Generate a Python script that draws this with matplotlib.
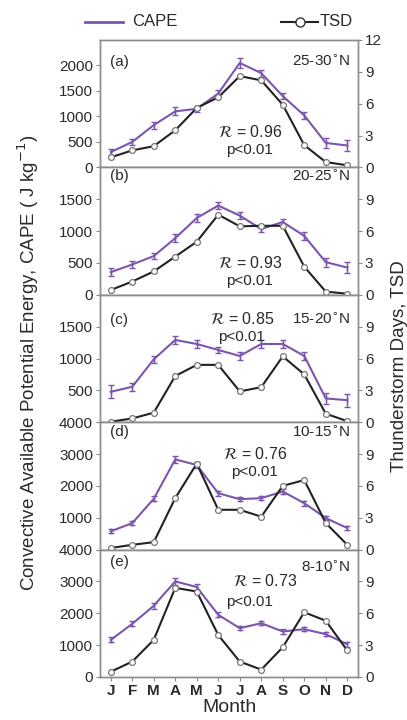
import matplotlib
matplotlib.use("Agg")
import matplotlib.pyplot as plt
from matplotlib.lines import Line2D

plt.rcParams['font.family'] = ['Liberation Sans', 'DejaVu Sans']
plt.rcParams['mathtext.fontset'] = 'dejavusans'

months = ["J", "F", "M", "A", "M", "J", "J", "A", "S", "O", "N", "D"]

panel_tags = ["(a)", "(b)", "(c)", "(d)", "(e)"]
regions = ["25-30$^{\\circ}$N", "20-25$^{\\circ}$N", "15-20$^{\\circ}$N",
           "10-15$^{\\circ}$N", "8-10$^{\\circ}$N"]
r_values = ["0.96", "0.93", "0.85", "0.76", "0.73"]

# monthly mean CAPE (J kg-1) per latitude band
cape_a = [300, 500, 830, 1100, 1150, 1450, 2050, 1850, 1400, 1020, 480, 430]
cape_b = [355, 476, 608, 889, 1206, 1401, 1243, 1032, 1143, 925, 513, 428]
cape_c = [477, 556, 987, 1291, 1228, 1134, 1040, 1228, 1228, 1040, 373, 346]
cape_d = [573, 833, 1594, 2833, 2656, 1771, 1583, 1615, 1823, 1458, 990, 677]
cape_e = [1165, 1670, 2237, 3003, 2825, 1953, 1533, 1690, 1428, 1501, 1344, 1029]

# error bars on CAPE
err_a = [60, 60, 70, 80, 60, 60, 100, 70, 60, 70, 90, 110]
err_b = [60, 50, 50, 60, 60, 60, 60, 50, 50, 60, 70, 80]
err_c = [100, 60, 60, 70, 60, 50, 60, 60, 60, 60, 90, 100]
err_d = [60, 60, 80, 100, 80, 80, 60, 60, 80, 80, 60, 70]
err_e = [80, 80, 90, 120, 100, 80, 60, 70, 80, 70, 70, 80]

# monthly thunderstorm days per latitude band
tsd_a = [0.95, 1.6, 2.0, 3.5, 5.6, 6.6, 8.6, 8.2, 5.9, 2.1, 0.5, 0.2]
tsd_b = [0.45, 1.25, 2.2, 3.6, 5.0, 7.55, 6.45, 6.5, 6.5, 2.65, 0.3, 0.1]
tsd_c = [0.05, 0.35, 0.9, 4.35, 5.4, 5.4, 2.9, 3.3, 6.2, 4.5, 0.8, 0.1]
tsd_d = [0.15, 0.45, 0.7, 4.85, 8.1, 3.75, 3.75, 3.1, 6.0, 6.55, 2.5, 0.45]
tsd_e = [0.5, 1.45, 3.5, 8.4, 8.05, 3.95, 1.45, 0.7, 2.8, 6.1, 5.3, 2.5]

cape_sets = [cape_a, cape_b, cape_c, cape_d, cape_e]
err_sets = [err_a, err_b, err_c, err_d, err_e]
tsd_sets = [tsd_a, tsd_b, tsd_c, tsd_d, tsd_e]

cape_lims = [2500, 2000, 2000, 4000, 4000]
cape_ticks = [[0, 500, 1000, 1500, 2000],
              [0, 500, 1000, 1500],
              [0, 500, 1000, 1500],
              [0, 1000, 2000, 3000, 4000],
              [0, 1000, 2000, 3000, 4000]]

purple = "#7B55AE"
spine_c = "#8c8c8c"
text_c = "#2a2a2a"

# annotation positions (axes fraction): R text, p text, region label
r_pos = [(0.58, 0.28), (0.58, 0.25), (0.55, 0.81), (0.60, 0.75), (0.64, 0.75)]
p_pos = [(0.58, 0.14), (0.58, 0.11), (0.55, 0.67), (0.60, 0.61), (0.58, 0.59)]
reg_y = [0.83, 0.93, 0.81, 0.92, 0.86]
tag_y = [0.83, 0.93, 0.80, 0.92, 0.90]

fig = plt.figure(figsize=(4.07, 7.2), dpi=100)
left, width = 100 / 407, 258 / 407
top_px, panel_px = 40, 127.4
x = list(range(12))

for i in range(5):
    bottom = 1 - (top_px + (i + 1) * panel_px) / 720
    ax = fig.add_axes([left, bottom, width, panel_px / 720])
    ax2 = ax.twinx()

    ax.errorbar(x, cape_sets[i], yerr=err_sets[i], color=purple, lw=1.5,
                marker='|', ms=4, capsize=2.2, elinewidth=1.0, zorder=3)
    ax2.plot(x, tsd_sets[i], color="#222222", lw=1.5, marker='o', ms=4.2,
             mfc='white', mec='#777777', mew=0.9, zorder=4)

    ax.set_xlim(-0.5, 11.5)
    ax.set_ylim(0, cape_lims[i])
    ax.set_yticks(cape_ticks[i])
    # the zero of a band is covered by the "4000" of the band below it
    if i in (2, 3):
        ax.set_yticklabels([""] + [str(t) for t in cape_ticks[i][1:]])
    ax2.set_ylim(0, 12)
    ax2.set_yticks([0, 3, 6, 9, 12] if i == 0 else [0, 3, 6, 9])
    ax.set_xticks(x)
    if i == 4:
        ax.set_xticklabels(months, fontsize=12, color=text_c, fontweight='bold')
        ax.set_xlabel("Month", fontsize=14, color=text_c, labelpad=1)
    else:
        ax.set_xticklabels([])

    for a in (ax, ax2):
        for s in a.spines.values():
            s.set_color(spine_c)
            s.set_linewidth(1.0)
        a.tick_params(colors=spine_c, labelcolor=text_c, labelsize=11,
                      length=3, width=0.8, pad=2)
    ax.tick_params(axis='x', direction='out', length=3)

    ax.text(0.04, tag_y[i], panel_tags[i], transform=ax.transAxes,
            fontsize=11, color=text_c, va='center', ha='left')
    ax.text(0.97, reg_y[i], regions[i], transform=ax.transAxes,
            fontsize=11, color=text_c, va='center', ha='right')
    ax.text(r_pos[i][0], r_pos[i][1], r"$\mathcal{R}$ = " + r_values[i],
            transform=ax.transAxes, fontsize=11.5, color=text_c,
            va='center', ha='center', zorder=6)
    ax.text(p_pos[i][0], p_pos[i][1], "p<0.01", transform=ax.transAxes,
            fontsize=11, color=text_c, va='center', ha='center', zorder=6)

# legend above the panels
fig.add_artist(Line2D([85 / 407, 123 / 407], [1 - 22 / 720] * 2,
                      color=purple, lw=2, transform=fig.transFigure))
fig.text(132 / 407, 1 - 22 / 720, "CAPE", fontsize=12, color=text_c,
         va='center', ha='left')
fig.add_artist(Line2D([281 / 407, 318 / 407], [1 - 22 / 720] * 2,
                      color="#222222", lw=1.5, transform=fig.transFigure))
fig.add_artist(Line2D([300 / 407], [1 - 22 / 720], color="#222222",
                      marker='o', ms=6.5, mfc='white', mec='#333333',
                      mew=1.0, transform=fig.transFigure))
fig.text(320 / 407, 1 - 22 / 720, "TSD", fontsize=12, color=text_c,
         va='center', ha='left')

fig.text(28 / 407, 1 - 363 / 720,
         "Convective Available Potential Energy, CAPE ( J kg$^{-1}$)",
         rotation=90, fontsize=13.5, color=text_c, va='center', ha='center')
fig.text(400 / 407, 1 - 366 / 720, "Thunderstorm Days, TSD",
         rotation=90, fontsize=13.5, color=text_c, va='center', ha='center')

fig.savefig("out.png", dpi=100, facecolor='white')
